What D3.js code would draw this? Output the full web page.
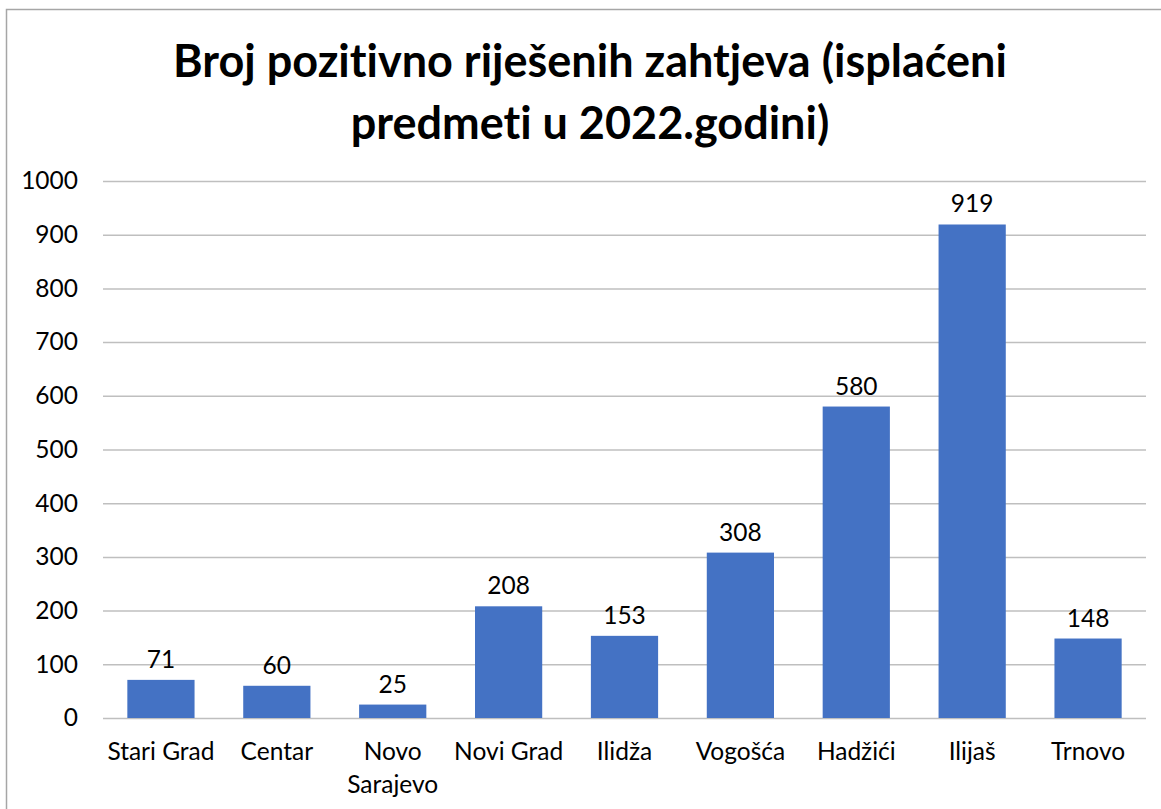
<!DOCTYPE html>
<html><head><meta charset="utf-8">
<script src="https://cdn.jsdelivr.net/npm/d3@7"></script>
<style>body{margin:0;background:#fff;} svg{display:block;} text{font-variant-ligatures:none;font-feature-settings:"liga" 0;}</style>
</head><body>
<script>
const categories = ["Stari Grad","Centar","Novo Sarajevo","Novi Grad","Ilidža","Vogošća","Hadžići","Ilijaš","Trnovo"];
const categoryLines = [["Stari Grad"],["Centar"],["Novo","Sarajevo"],["Novi Grad"],["Ilidža"],["Vogošća"],["Hadžići"],["Ilijaš"],["Trnovo"]];
const values = [71,60,25,208,153,308,580,919,148];
const yTicks = [0,100,200,300,400,500,600,700,800,900,1000];
const titleLines = ["Broj pozitivno riješenih zahtjeva (isplaćeni","predmeti u 2022.godini)"];

const W=1161,H=809;
const font="Lato, 'Liberation Sans', sans-serif";
const fs=24.5;
const svg=d3.select("body").append("svg").attr("width",W).attr("height",H);
svg.append("rect").attr("x",6.5).attr("y",9.5).attr("width",W+10).attr("height",H+10).attr("fill","#fff").attr("stroke","#a6a6a6").attr("stroke-width",1.5);

const x=d3.scaleBand().domain(categories).range([103,1146]).paddingInner(0.42).paddingOuter(0.21);
const y=d3.scaleLinear().domain([0,1000]).range([718,181]);

const gy=svg.append("g").attr("transform","translate(103,0)")
 .call(d3.axisLeft(y).tickValues(yTicks).tickFormat(d3.format("d")).tickSize(-1043).tickPadding(25));
gy.select(".domain").remove();
gy.selectAll(".tick line").attr("stroke","#bfbfbf").attr("stroke-width",1.5);
gy.selectAll(".tick text").attr("font-family",font).attr("font-size",fs).attr("fill","#000");

svg.append("g").selectAll("rect").data(values).join("rect")
 .attr("x",(d,i)=>x(categories[i])).attr("width",x.bandwidth())
 .attr("y",d=>y(d)).attr("height",d=>y(0)-y(d)).attr("fill","#4472c4");

svg.append("g").selectAll("text").data(values).join("text")
 .attr("x",(d,i)=>x(categories[i])+x.bandwidth()/2).attr("y",d=>y(d)-12)
 .attr("text-anchor","middle").attr("font-family",font).attr("font-size",fs).text(d=>d);

const xl=svg.append("g").selectAll("text").data(categories).join("text")
 .attr("x",d=>x(d)+x.bandwidth()/2).attr("y",760)
 .attr("text-anchor","middle").attr("font-family",font).attr("font-size",fs);
xl.each(function(d,i){
  const t=d3.select(this);
  categoryLines[i].forEach((l,j)=>t.append("tspan").attr("x",x(d)+x.bandwidth()/2).attr("dy",j?33:0).text(l));
});

svg.append("text").attr("x",590).attr("y",77).attr("text-anchor","middle")
 .attr("font-family",font).attr("font-weight","bold").attr("font-size",45)
 .selectAll("tspan").data(titleLines).join("tspan").attr("x",590).attr("dy",(d,i)=>i?62:0).text(d=>d);
</script>
</body></html>
